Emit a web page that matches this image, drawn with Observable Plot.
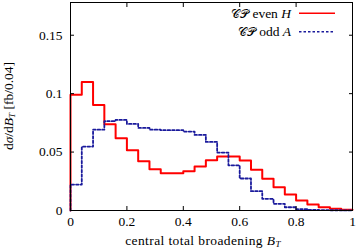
<!DOCTYPE html>
<html><head><meta charset="utf-8">
<script src="https://cdn.jsdelivr.net/npm/d3@7"></script>
<script src="https://cdn.jsdelivr.net/npm/@observablehq/plot@0.6"></script>
<style>body{margin:0;background:#fff} svg{display:block}</style>
</head><body><div id="chart"></div>
<script>
const binEdges = [0,0.04,0.08,0.12,0.16,0.2,0.24,0.28,0.32,0.36,0.4,0.44,0.48,0.52,0.56,0.6,0.64,0.68,0.72,0.76,0.8,0.84,0.88,0.92,0.96];
const evenH = [0.099,0.110,0.0903,0.0738,0.0618,0.0516,0.0422,0.0353,0.0319,0.0319,0.0336,0.0376,0.043,0.0462,0.0462,0.0427,0.0348,0.0271,0.020,0.0137,0.0085,0.0051,0.0028,0.0014,0.0006];
const oddA = [0.0222,0.0547,0.0692,0.0764,0.0775,0.0741,0.0707,0.0692,0.0687,0.0687,0.0675,0.0647,0.0587,0.0496,0.0387,0.0274,0.0165,0.010,0.0057,0.0028,0.0011,0.0006,0.0003,0.0002,0.0001];
const xTicks = [0,0.2,0.4,0.6,0.8,1];
const xTickLabels = ["0","0.2","0.4","0.6","0.8","1"];
const yTicks = [0,0.05,0.1,0.15];
const yTickLabels = ["0","0.05","0.1","0.15"];
const seriesNames = ["even", "odd"];
const seriesBosons = ["H", "A"];
const seriesColors = ["#ff0000", "#1a1a9c"];

function steps(vals) {
  const pts = [{x: 0, y: 0}];
  vals.forEach((v, i) => pts.push({x: binEdges[i], y: v}));
  pts.push({x: 1, y: vals[vals.length - 1]});
  return pts;
}

const fam = "Liberation Serif";
const fs = 13.5;
const dash = "2.5,2";

const plot = Plot.plot({
  width: 357, height: 249,
  marginLeft: 70, marginRight: 5, marginTop: 2, marginBottom: 39,
  style: {fontFamily: fam, fontSize: fs + "px", background: "#fff", color: "#000"},
  x: {domain: [0, 1]},
  y: {domain: [0, 0.178]},
  marks: [
    Plot.line(steps(evenH), {x: "x", y: "y", curve: "step-after", stroke: seriesColors[0], strokeWidth: 2}),
    Plot.line(steps(oddA), {x: "x", y: "y", curve: "step-after", stroke: seriesColors[1], strokeWidth: 1.8, strokeDasharray: dash}),
    Plot.axisX({ticks: xTicks, tickFormat: d => xTickLabels[xTicks.indexOf(d)], tickSize: -4, tickPadding: 10, label: null}),
    Plot.axisX({anchor: "top", ticks: xTicks, tickFormat: () => "", tickSize: -4, label: null}),
    Plot.axisY({ticks: yTicks, tickFormat: d => yTickLabels[yTicks.indexOf(d)], tickSize: -4, tickPadding: 12, label: null}),
    Plot.axisY({anchor: "right", ticks: yTicks, tickFormat: () => "", tickSize: -4, label: null}),
    Plot.frame({stroke: "#000", strokeWidth: 1})
  ]
});

const svg = d3.select(plot);
const xs = plot.scale("x"), ys = plot.scale("y");

// y label
const yl = svg.append("text")
  .attr("transform", `translate(13,${(ys.apply(0) + ys.apply(0.178)) / 2}) rotate(-90)`)
  .attr("text-anchor", "middle").attr("font-family", fam).attr("font-size", fs).attr("fill", "#000");
yl.append("tspan").text("d");
yl.append("tspan").attr("font-style", "italic").text("σ");
yl.append("tspan").text("/d");
yl.append("tspan").attr("font-style", "italic").text("B");
yl.append("tspan").attr("font-style", "italic").attr("font-size", 9).attr("dy", 2).text("T");
yl.append("tspan").attr("dy", -2).text(" [fb/0.04]");

// x label
const xl = svg.append("text")
  .attr("x", (xs.apply(0) + xs.apply(1)) / 2 - 8).attr("y", 245)
  .attr("text-anchor", "middle").attr("font-family", fam).attr("font-size", fs).attr("letter-spacing", 0.4).attr("fill", "#000");
xl.append("tspan").text("central total broadening ");
xl.append("tspan").attr("font-style", "italic").text("B");
xl.append("tspan").attr("font-style", "italic").attr("font-size", 9).attr("dy", 2).text("T");

// legend
seriesNames.forEach((name, i) => {
  const cy = 13.3 + i * 18.4;
  const t = svg.append("text").attr("x", 291).attr("y", cy + 4.5)
    .attr("text-anchor", "end").attr("font-family", fam).attr("font-size", fs).attr("fill", "#000");
  t.append("tspan").attr("font-family", "DejaVu Sans").attr("font-size", 12).text("𝒞𝒫");
  t.append("tspan").text(" " + name + " ");
  t.append("tspan").attr("font-style", "italic").text(seriesBosons[i]);
  svg.append("line").attr("x1", 299).attr("x2", 335).attr("y1", cy).attr("y2", cy)
    .attr("stroke", seriesColors[i]).attr("stroke-width", 1.6)
    .attr("stroke-dasharray", i === 0 ? null : dash);
});

document.getElementById("chart").appendChild(plot);
</script>
</body></html>
